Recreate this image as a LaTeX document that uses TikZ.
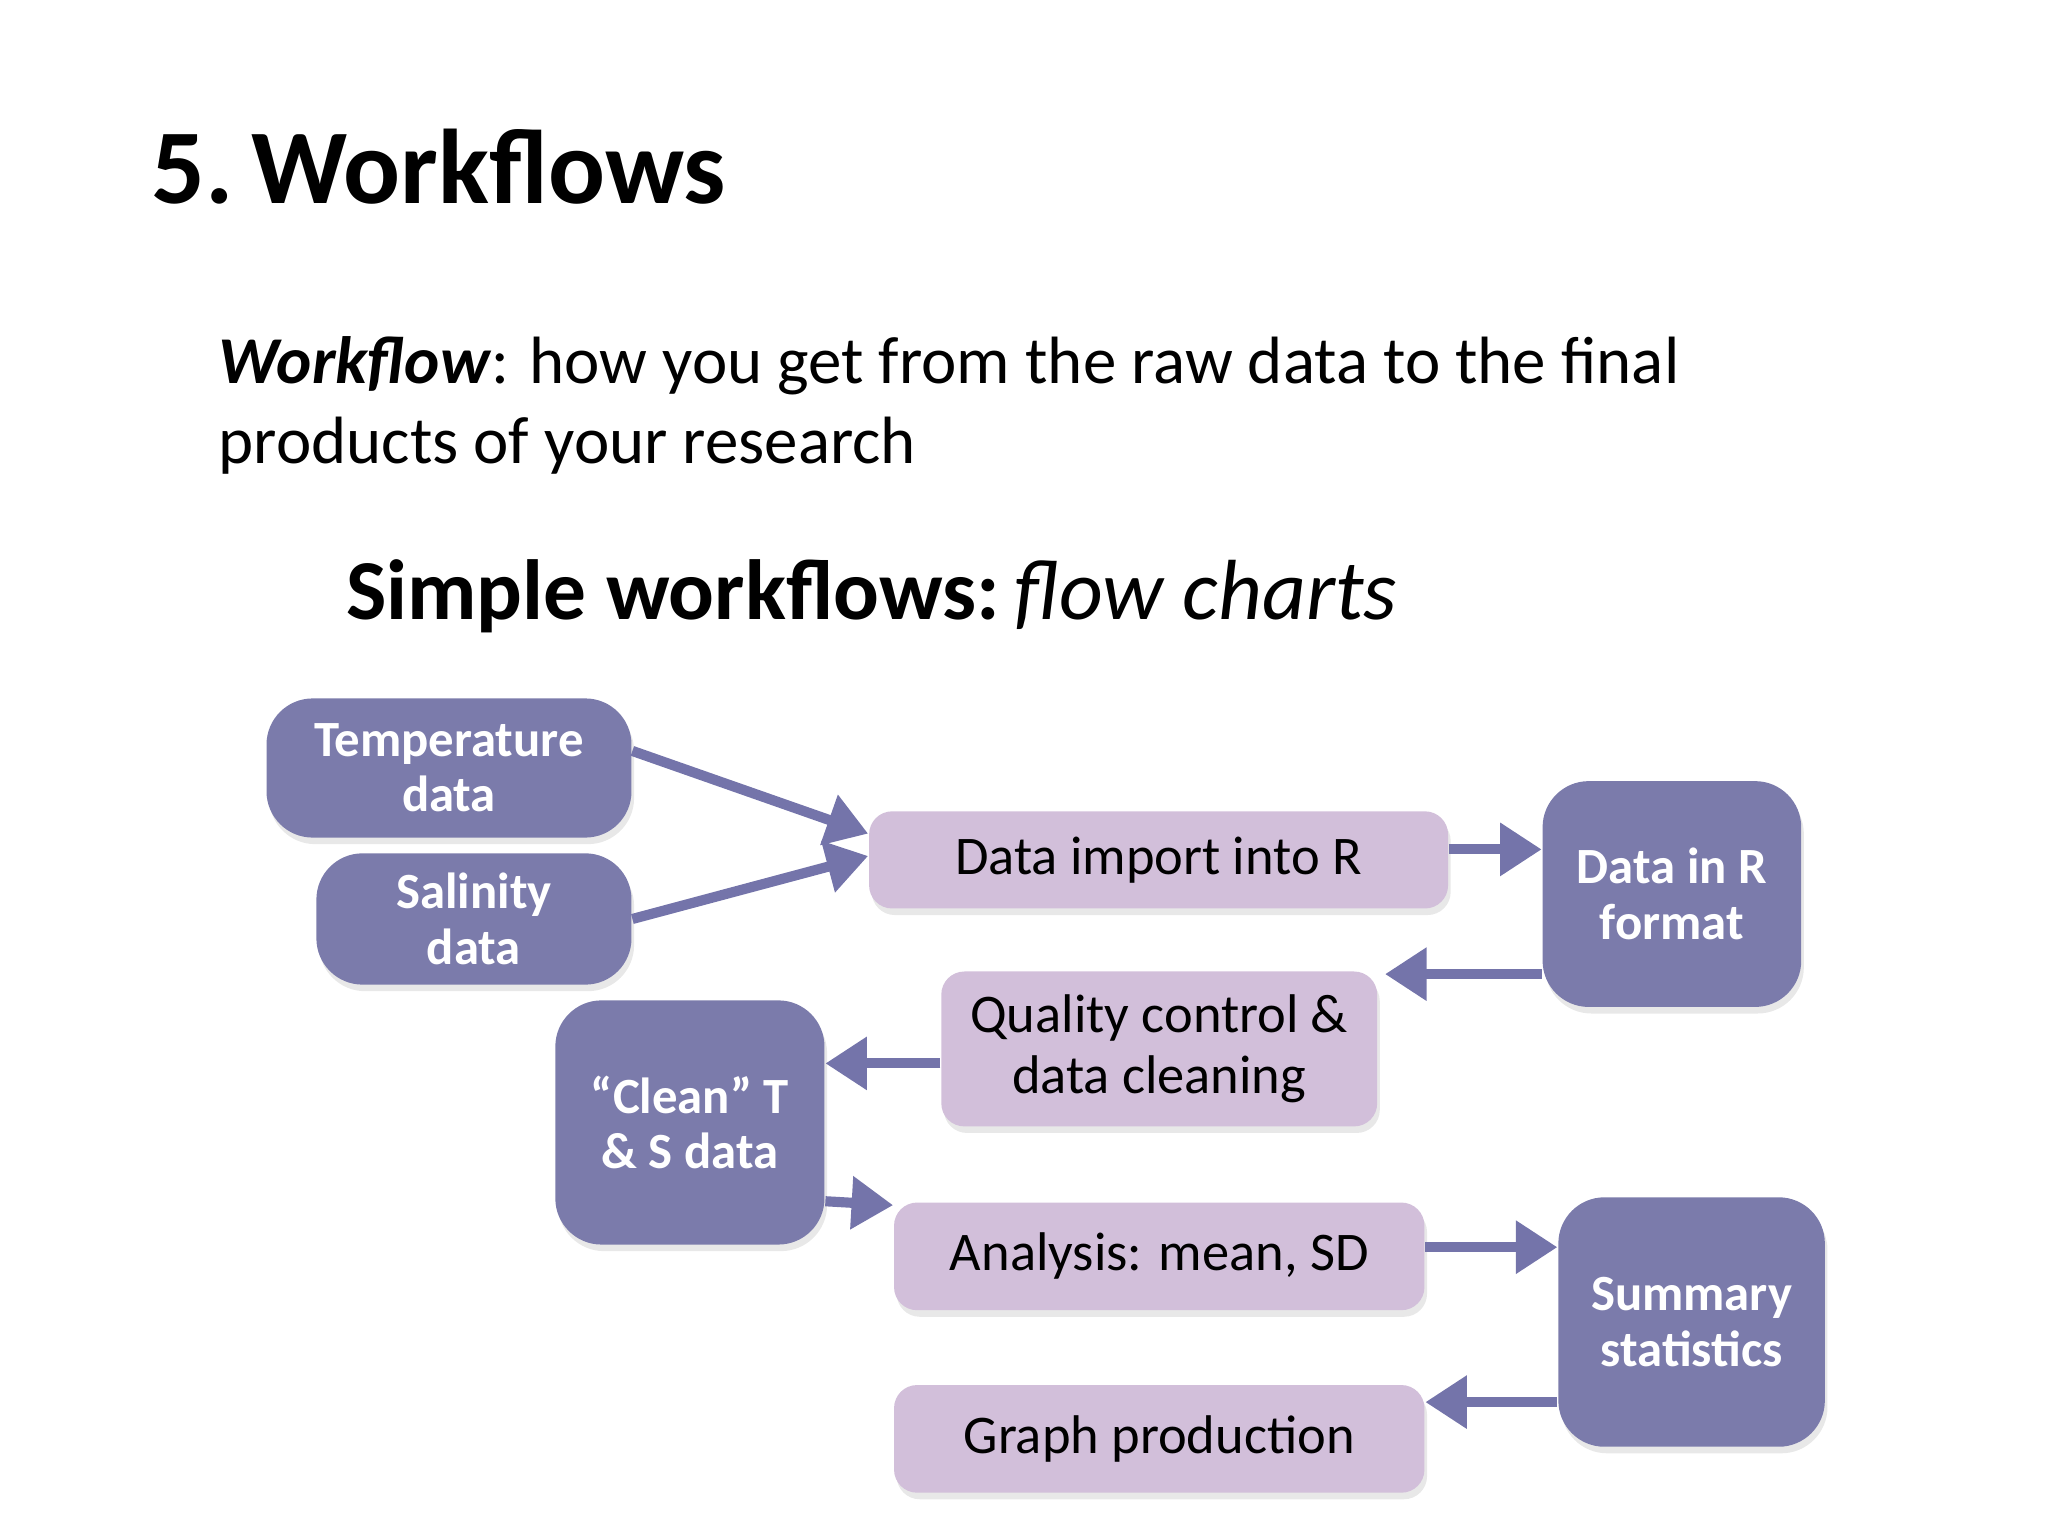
\documentclass[tikz,border=0pt]{standalone}
\usepackage{fontspec}
\setmainfont{Carlito}
\usetikzlibrary{arrows.meta}
\definecolor{dk}{HTML}{7B7BAB}
\definecolor{lt}{HTML}{D2BFDA}
\definecolor{ar}{HTML}{7474AA}
\begin{document}
\begin{tikzpicture}[x=1cm,y=1cm,
 box/.style={rounded corners=10pt, align=center, inner sep=2pt},
 dark/.style={box, fill=dk, text=white, font=\fontsize{11}{12}\selectfont\bfseries},
 light/.style={box, fill=lt, text=black, rounded corners=5pt, font=\fontsize{11.8}{13.2}\selectfont},
 arr/.style={draw=ar, line width=2.2pt, -{Triangle[length=9pt,width=11pt]}}]
\useasboundingbox (0,0) rectangle (15.6,-11.7);
\node[anchor=base west, inner sep=0pt, font=\fontsize{23}{28}\selectfont\bfseries] (t) at (1.15,-1.55) {5.\,Workflows};
\node[anchor=base west, inner sep=0pt, font=\fontsize{14.5}{18}\selectfont] (d) at (1.66,-2.92) {\textbf{\textit{Workflow}}: how you get from the raw data to the final};
\node[anchor=base west, inner sep=0pt, font=\fontsize{14.5}{18}\selectfont] (d2) at (1.66,-3.53) {products of your research};
\node[anchor=base west, inner sep=0pt, font=\fontsize{18.5}{22}\selectfont] (s) at (2.63,-4.72) {\textbf{Simple workflows:}\,\textit{flow charts}};
% shadows
\foreach \a/\b/\c/\d in {2.03/-5.32/4.81/-6.38, 2.41/-6.50/4.81/-7.50, 11.75/-5.95/13.72/-7.67, 4.23/-7.62/6.28/-9.48, 11.87/-9.12/13.90/-11.02}
  \fill[gray!18, rounded corners=10pt] (\a+0.02,\b-0.05) rectangle (\c+0.02,\d-0.05);
\foreach \a/\b/\c/\d in {6.62/-6.18/11.03/-6.92, 7.17/-7.40/10.49/-8.58, 6.81/-9.16/10.85/-9.98, 6.81/-10.55/10.85/-11.37}
  \fill[gray!18, rounded corners=5pt] (\a+0.02,\b-0.05) rectangle (\c+0.02,\d-0.05);
\node[dark, minimum width=2.78cm, minimum height=1.06cm] (temp) at (3.42,-5.85) {Temperature\\data};
\node[dark, minimum width=2.40cm, minimum height=1.00cm] (sal) at (3.61,-7.00) {Salinity\\data};
\node[light, minimum width=4.41cm, minimum height=0.74cm] (imp) at (8.825,-6.55) {Data import into R};
\node[dark, minimum width=1.97cm, minimum height=1.72cm] (inr) at (12.735,-6.81) {Data in R\\format};
\node[light, minimum width=3.32cm, minimum height=1.18cm] (qc) at (8.83,-7.99) {Quality control \&\\data cleaning};
\node[dark, minimum width=2.05cm, minimum height=1.86cm] (cl) at (5.255,-8.55) {“Clean” T\\\& S data};
\node[light, minimum width=4.04cm, minimum height=0.82cm] (an) at (8.83,-9.57) {Analysis: mean, SD};
\node[dark, minimum width=2.03cm, minimum height=1.90cm] (sum) at (12.885,-10.07) {Summary\\statistics};
\node[light, minimum width=4.04cm, minimum height=0.82cm] (gr) at (8.83,-10.96) {Graph production};
\coordinate (qcne) at (10.55,-7.42);
\draw[arr] (temp.east |- 0,-5.72) -- (imp.west |- 0,-6.35);
\draw[arr] (sal.east) -- (imp.west |- 0,-6.52);
\draw[arr] (imp.east |- 0,-6.47) -- (inr.west |- 0,-6.47);
\draw[arr] (inr.west |- 0,-7.42) -- (qcne);
\draw[arr] (qc.west |- 0,-8.10) -- (cl.east |- 0,-8.10);
\draw[arr] (cl.east |- 0,-9.15) -- (an.west |- 0,-9.18);
\draw[arr] (an.east |- 0,-9.50) -- (sum.west |- 0,-9.50);
\draw[arr] (sum.west |- 0,-10.68) -- (gr.east |- 0,-10.68);
\end{tikzpicture}
\end{document}
